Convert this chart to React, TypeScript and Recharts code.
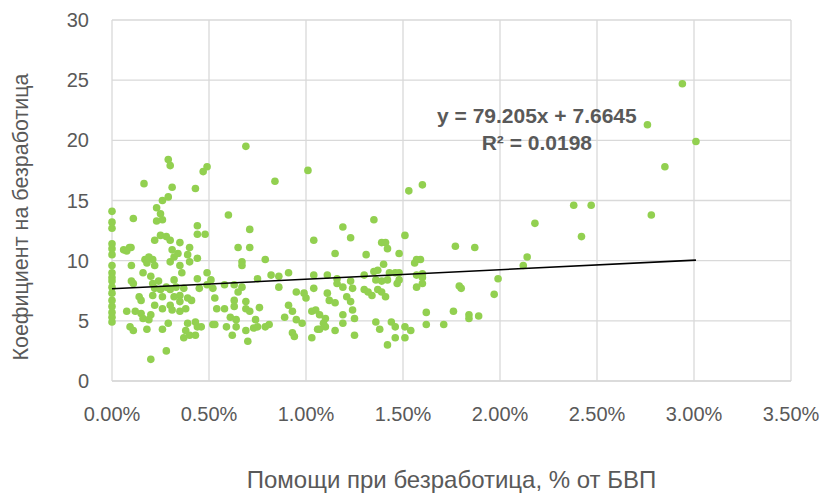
import React from 'react';
import { ScatterChart, Scatter, XAxis, YAxis, CartesianGrid, ReferenceDot } from 'recharts';

// Unemployment benefits, % of GDP
const aidPct: number[] = [
  0, 0, 0, 0, 0, 0, 0, 0, 0, 0, 0, 0, 0, 0, 0, 0, 0,
  0.29, 0.30, 0.165, 0.31, 0.43, 0.47, 0.49, 0.26, 0.29, 0.23, 0.25, 0.26, 0.23, 0.11, 0.44, 0.44, 0.48, 0.22, 0.25, 0.28, 0.30, 0.35, 0.40, 0.09, 0.06,
  0.69, 0.84, 1.01, 0.60, 0.71, 0.65, 0.71, 1.04,
  1.53, 1.60, 1.35, 1.19, 1.23, 1.51, 1.39, 1.41, 1.42,
  2.18, 1.77, 1.87, 2.14, 2.12, 1.99, 1.97, 1.79, 1.80, 1.60, 1.60, 1.62, 1.76, 1.84, 1.84, 1.89, 1.62, 1.71, 1.59,
  2.94, 2.76, 3.01, 2.85, 2.38, 2.47, 2.78, 2.42,
  0.076, 0.098, 0.31, 0.17, 0.19, 0.21, 0.18, 0.22, 0.30, 0.32, 0.34, 0.35, 0.39, 0.40, 0.44, 0.10, 0.16, 0.20, 0.32, 0.36, 0.44, 0.49, 0.51, 0.10, 0.11,
  0.21, 0.24, 0.28, 0.22, 0.25, 0.30, 0.33, 0.37, 0.45, 0.49, 0.52, 0.14, 0.15, 0.21, 0.26, 0.32, 0.35, 0.39, 0.41, 0.35, 0.22, 0.30, 0.53,
  0.076, 0.12, 0.15, 0.20, 0.16, 0.19, 0.26, 0.31, 0.35, 0.38, 0.54, 0.093, 0.11, 0.18, 0.26, 0.29, 0.39, 0.43, 0.44, 0.46, 0.52, 0.38, 0.37, 0.40, 0.43, 0.28, 0.20,
  0.67, 0.67, 0.79, 0.58, 0.63, 0.67, 0.65, 0.75, 0.82, 0.86, 0.86, 0.91, 1.04, 1.04, 0.63, 0.69, 0.58, 0.63, 0.69, 0.71, 0.76, 0.61, 0.64, 0.74,
  0.95, 0.99, 1.00, 0.91, 0.93, 1.03, 0.89, 0.95, 0.98, 0.53, 0.59, 0.64, 0.69, 0.73, 0.75, 0.79, 0.81, 0.62, 0.70, 0.93, 0.94, 1.03, 1.06,
  1.15, 1.31, 1.48, 1.56, 1.57, 1.40, 1.37, 1.35, 1.43, 1.46, 1.48, 1.11, 1.16, 1.30, 1.57, 1.23, 1.16, 1.19, 1.24,
  1.36, 1.39, 1.42, 1.48, 1.47, 1.60, 1.57, 1.30, 1.32, 1.34, 1.37, 1.39, 1.41, 1.11, 1.12, 1.15, 1.21, 1.23, 1.24, 1.25,
  1.05, 1.07, 1.10, 1.19, 1.19, 1.09, 1.10, 1.07, 1.15, 1.25, 1.36, 1.38, 1.44, 1.46, 1.51, 1.54, 1.46, 1.51, 1.42,
];

// Unemployment rate
const unemploymentRate: number[] = [
  14.1, 13.2, 12.7, 11.4, 11.0, 10.5, 9.6, 9.0, 8.6, 8.3, 7.8, 7.3, 6.7, 6.2, 5.7, 5.3, 4.9,
  18.4, 17.9, 16.4, 16.1, 16.0, 17.4, 17.8, 15.0, 15.3, 14.4, 13.9, 13.4, 13.3, 13.5, 12.9, 12.2, 12.2, 11.7, 12.1, 12.0, 11.7, 11.5, 11.1, 11.1, 10.9,
  19.5, 16.6, 17.5, 13.8, 12.6, 11.1, 11.1, 11.7,
  15.8, 16.3, 13.4, 12.8, 11.9, 12.1, 11.5, 11.5, 11.0,
  13.1, 11.2, 11.1, 10.3, 9.6, 8.5, 7.2, 7.9, 7.7, 8.9, 8.6, 5.7, 5.8, 5.5, 5.2, 5.4, 4.7, 4.7, 10.1,
  24.7, 21.3, 19.9, 17.8, 14.6, 14.6, 13.8, 12.0,
  10.8, 11.1, 10.9, 10.1, 10.3, 10.1, 9.8, 9.6, 9.9, 10.3, 10.6, 9.6, 10.5, 9.9, 10.2, 9.6, 9.0, 8.7, 8.4, 9.0, 8.5, 9.0, 8.4, 8.3, 8.1,
  8.1, 8.3, 7.8, 7.7, 7.6, 7.6, 7.8, 7.7, 7.7, 8.0, 7.7, 7.0, 6.7, 7.1, 7.0, 7.0, 7.1, 6.9, 6.7, 6.6, 6.3, 6.3, 6.9,
  5.8, 5.8, 5.6, 5.5, 5.2, 5.1, 6.0, 5.9, 5.8, 6.0, 6.0, 4.5, 4.2, 4.3, 4.3, 4.8, 4.8, 4.9, 4.5, 4.5, 4.7, 4.2, 3.6, 3.8, 3.8, 2.5, 1.8,
  9.9, 9.6, 10.1, 8.0, 8.0, 7.8, 7.4, 8.5, 8.8, 8.7, 7.8, 9.0, 8.8, 7.7, 6.7, 6.6, 6.0, 6.2, 6.0, 5.8, 6.1, 5.3, 5.1, 5.1,
  7.4, 7.3, 6.9, 6.3, 5.8, 5.8, 5.3, 5.1, 4.8, 4.7, 4.5, 4.5, 4.2, 4.4, 4.5, 4.5, 4.7, 3.8, 3.3, 4.0, 3.7, 3.6, 4.3,
  10.6, 10.5, 10.6, 9.8, 10.1, 9.7, 9.2, 9.1, 9.0, 9.0, 9.0, 8.8, 8.5, 8.8, 8.8, 8.3, 8.1, 7.8, 7.7,
  8.4, 8.3, 8.4, 8.4, 8.1, 8.1, 7.8, 7.6, 7.4, 7.1, 7.6, 7.4, 7.0, 7.3, 6.7, 6.5, 7.0, 6.6, 5.9, 5.2,
  5.9, 5.5, 5.2, 5.5, 4.8, 4.8, 4.5, 4.3, 4.2, 3.8, 4.9, 4.3, 4.9, 4.5, 4.5, 4.2, 3.6, 3.6, 3.0,
];

const xTicks = [0, 0.5, 1, 1.5, 2, 2.5, 3, 3.5];
const yTicks = [0, 5, 10, 15, 20, 25, 30];

// Linear trend (x as fraction of GDP): y = 79.205x + 7.6645
const trendSlope = 79.205;
const trendIntercept = 7.6645;
const trendXRange = [0, 3.01];
const trendEquation = 'y = 79.205x + 7.6645';
const trendR2 = 'R² = 0.0198';

const points = aidPct.map((x, i) => ({ x, y: unemploymentRate[i] }));
const trendData = trendXRange.map((x) => ({ x, y: trendIntercept + (trendSlope * x) / 100 }));

const FONT = '"Liberation Sans", Arial, sans-serif';
const GREY = '#595959';

const Dot = (props: any) => <circle cx={props.cx} cy={props.cy} r={3.8} fill="#92d050" />;
const NoDot = () => <g />;

export default function App() {
  return (
    <div style={{ position: 'absolute', left: 0, top: 0, width: 821, height: 493, background: '#fff' }}>
      <ScatterChart width={821} height={493} margin={{ top: 20, right: 30, bottom: 0, left: 0 }}>
        <CartesianGrid stroke="#d9d9d9" strokeWidth={1.3} />
        <XAxis
          type="number"
          dataKey="x"
          domain={[0, 3.5]}
          ticks={xTicks}
          interval={0}
          tickFormatter={(v: number) => v.toFixed(2) + '%'}
          tick={{ fill: GREY, fontSize: 20, fontFamily: FONT }}
          tickLine={false}
          axisLine={{ stroke: '#d9d9d9', strokeWidth: 1.3 }}
          tickMargin={20}
          height={112}
          label={{
            value: 'Помощи при безработица, % от БВП',
            position: 'insideBottom',
            offset: 5,
            fill: GREY,
            fontSize: 24,
            fontFamily: FONT,
          }}
        />
        <YAxis
          type="number"
          dataKey="y"
          domain={[0, 30]}
          ticks={yTicks}
          interval={0}
          tick={{ fill: GREY, fontSize: 20, fontFamily: FONT }}
          tickLine={false}
          axisLine={false}
          tickMargin={17}
          width={112}
          label={{
            content: (p: any) => {
              const vb = p.viewBox || { x: 0, y: 20, width: 112, height: 361 };
              const cx = vb.x + 21;
              const cy = 217;
              return (
                <text
                  x={cx}
                  y={cy}
                  transform={`rotate(-90 ${cx} ${cy})`}
                  textAnchor="middle"
                  dominantBaseline="central"
                  fill={GREY}
                  fontSize={21.5}
                  fontFamily={FONT}
                >
                  Коефициент на безработица
                </text>
              );
            },
          }}
        />
        <Scatter data={points} fill="#92d050" shape={Dot} isAnimationActive={false} />
        <Scatter
          data={trendData}
          line={{ stroke: '#000', strokeWidth: 1.6 }}
          shape={NoDot}
          isAnimationActive={false}
        />
        <ReferenceDot
          x={2.19}
          y={22.1}
          r={0}
          fill="none"
          stroke="none"
          label={{ value: trendEquation, position: 'center', fill: GREY, fontSize: 21, fontWeight: 'bold', fontFamily: FONT }}
        />
        <ReferenceDot
          x={2.19}
          y={19.85}
          r={0}
          fill="none"
          stroke="none"
          label={{ value: trendR2, position: 'center', fill: GREY, fontSize: 21, fontWeight: 'bold', fontFamily: FONT }}
        />
      </ScatterChart>
    </div>
  );
}
